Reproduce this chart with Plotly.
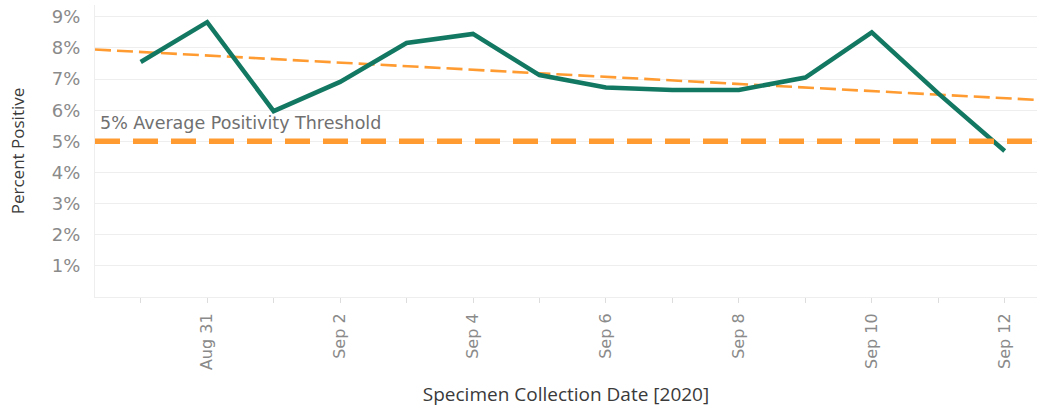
import numpy as np
import pandas as pd
import plotly.graph_objects as go

dates = pd.date_range("2020-08-30", "2020-09-12", freq="D")
pct_positive = [7.55, 8.83, 5.97, 6.91, 8.16, 8.45, 7.13, 6.73, 6.65, 6.65, 7.05, 8.50, 6.54, 4.69]
threshold = 5.0
threshold_label = "5% Average Positivity Threshold"
y_ticks = [1, 2, 3, 4, 5, 6, 7, 8, 9]
y_tick_labels = [f"{v}%" for v in y_ticks]

x_start = pd.Timestamp("2020-08-29 07:30")
x_end = pd.Timestamp("2020-09-12 11:40")

# linear trend (least squares) over day index
day_idx = np.arange(len(pct_positive))
slope, intercept = np.polyfit(day_idx, pct_positive, 1)
def to_idx(ts):
    return (ts - dates[0]) / pd.Timedelta(days=1)
trend_x = [x_start, x_end]
trend_y = [intercept + slope * to_idx(t) for t in trend_x]

GREEN = "#137862"
ORANGE = "#FF9B30"
TICK_FONT = "DejaVu Sans"

fig = go.Figure()
fig.add_trace(go.Scatter(x=trend_x, y=trend_y, mode="lines",
                         line=dict(color=ORANGE, width=2.6, dash="16px,6px"),
                         hoverinfo="skip", showlegend=False))
fig.add_trace(go.Scatter(x=dates, y=pct_positive, mode="lines",
                         line=dict(color=GREEN, width=4.5),
                         showlegend=False))
fig.add_hline(y=threshold, line=dict(color=ORANGE, width=5.5, dash="25px,13px"))
fig.add_annotation(x=0, xref="paper", y=threshold, yref="y", yshift=18, xshift=3,
                   text=threshold_label, showarrow=False, xanchor="left",
                   font=dict(family=TICK_FONT, size=17.5, color="#707070"))

fig.update_layout(
    width=1037, height=416,
    margin=dict(l=95, r=0, t=5, b=119),
    paper_bgcolor="white", plot_bgcolor="white",
    font=dict(family=TICK_FONT, color="#888888"),
    xaxis=dict(
        range=[x_start, x_end], type="date",
        tick0="2020-08-31", dtick=2 * 86400000, tickformat="%b %-d",
        tickangle=-90, ticks="outside", ticklen=5, tickcolor="#dddddd",
        tickfont=dict(family=TICK_FONT, size=16, color="#8a8a8a"),
        ticklabelstandoff=4,
        minor=dict(dtick=86400000, tick0="2020-08-30", ticks="outside", ticklen=5, tickcolor="#dddddd", showgrid=False),
        showgrid=False, showline=True, linecolor="#eeeeee", linewidth=1,
        title=dict(text="Specimen Collection Date [2020]", standoff=18,
                   font=dict(family="Open Sans", size=19, color="#3a3a3a")),
    ),
    yaxis=dict(
        range=[0, 9.38], tickvals=y_ticks, ticktext=y_tick_labels,
        tickfont=dict(family=TICK_FONT, size=18, color="#8a8a8a"),
        showgrid=True, gridcolor="#eeeeee", gridwidth=1,
        zeroline=False, showline=True, linecolor="#eeeeee",
        ticks="", ticklabelstandoff=10,
        title=dict(text="Percent Positive", standoff=22,
                   font=dict(family="Open Sans", size=17, color="#3a3a3a")),
    ),
)
fig.write_html("out.html", config={"displayModeBar": False},
               post_script="document.body.style.margin='0';")
